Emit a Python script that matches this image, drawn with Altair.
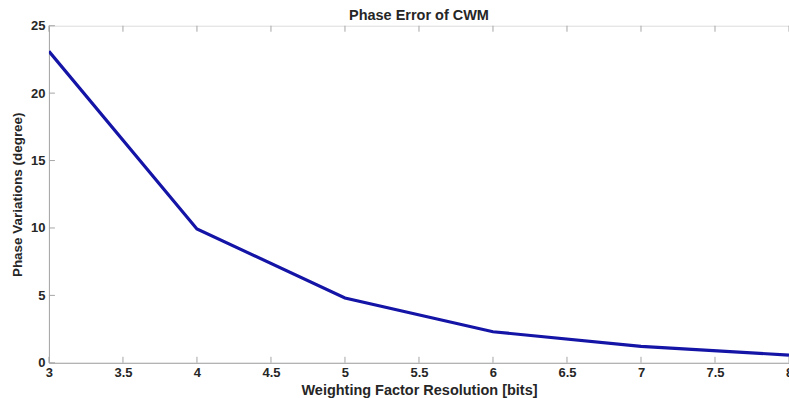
import altair as alt
import pandas as pd

# Weighting factor resolution (bits) vs. phase variation (degrees)
bits = [3, 4, 5, 6, 7, 8]
phase_deg = [23.1, 9.93, 4.81, 2.3, 1.22, 0.57]

x_ticks = [3, 3.5, 4, 4.5, 5, 5.5, 6, 6.5, 7, 7.5, 8]
y_ticks = [0, 5, 10, 15, 20, 25]

W, H = 741, 337.5
TICK = 6
AXIS_GRAY = "#a6a6a6"
TEXT = "#262626"
FONT = "Liberation Sans"

df = pd.DataFrame({"bits": bits, "phase": phase_deg})
xt = pd.DataFrame({"v": x_ticks})
yt = pd.DataFrame({"v": y_ticks})

xscale = alt.Scale(domain=[3, 8], nice=False, zero=False)
yscale = alt.Scale(domain=[0, 25], nice=False)

line = alt.Chart(df).mark_line(color="#1414a6", strokeWidth=3.2, clip=True).encode(
    x=alt.X("bits:Q", scale=xscale,
            axis=alt.Axis(values=x_ticks, title="Weighting Factor Resolution [bits]",
                          labelExpr="datum.value", ticks=False, domain=True,
                          domainColor=AXIS_GRAY, labelPadding=4, titlePadding=4,
                          labelFont=FONT, labelFontSize=13, labelFontWeight="bold",
                          labelColor=TEXT, titleFont=FONT, titleFontSize=14.5,
                          titleFontWeight="bold", titleColor=TEXT, grid=False,
                          labelFlush=False)),
    y=alt.Y("phase:Q", scale=yscale,
            axis=alt.Axis(values=y_ticks, title="Phase Variations (degree)",
                          ticks=False, domain=True, domainColor=AXIS_GRAY,
                          labelPadding=4, titlePadding=6,
                          labelFont=FONT, labelFontSize=13, labelFontWeight="bold",
                          labelColor=TEXT, titleFont=FONT, titleFontSize=13.5,
                          titleFontWeight="bold", titleColor=TEXT, grid=False)),
)

# inward tick marks on bottom, top and left edges
bottom_ticks = alt.Chart(xt).mark_rule(color=AXIS_GRAY, strokeWidth=1).encode(
    x=alt.X("v:Q", scale=xscale), y=alt.value(H), y2=alt.value(H - TICK))
top_ticks = alt.Chart(xt).mark_rule(color=AXIS_GRAY, strokeWidth=1).encode(
    x=alt.X("v:Q", scale=xscale), y=alt.value(0), y2=alt.value(TICK))
left_ticks = alt.Chart(yt).mark_rule(color=AXIS_GRAY, strokeWidth=1).encode(
    y=alt.Y("v:Q", scale=yscale), x=alt.value(0), x2=alt.value(TICK))

chart = alt.layer(bottom_ticks, top_ticks, left_ticks, line).properties(
    width=W, height=H,
    title=alt.Title("Phase Error of CWM", font=FONT, fontSize=14.5, fontWeight="bold",
                    color=TEXT, anchor="middle", offset=-4),
    autosize=alt.AutoSizeParams(type="none"),
    padding={"left": 49, "top": 25.5, "right": 0, "bottom": 35},
).configure_view(stroke=AXIS_GRAY, strokeWidth=1).configure(background="white")

chart.save("out.html", embed_options={"renderer": "svg", "actions": False})
